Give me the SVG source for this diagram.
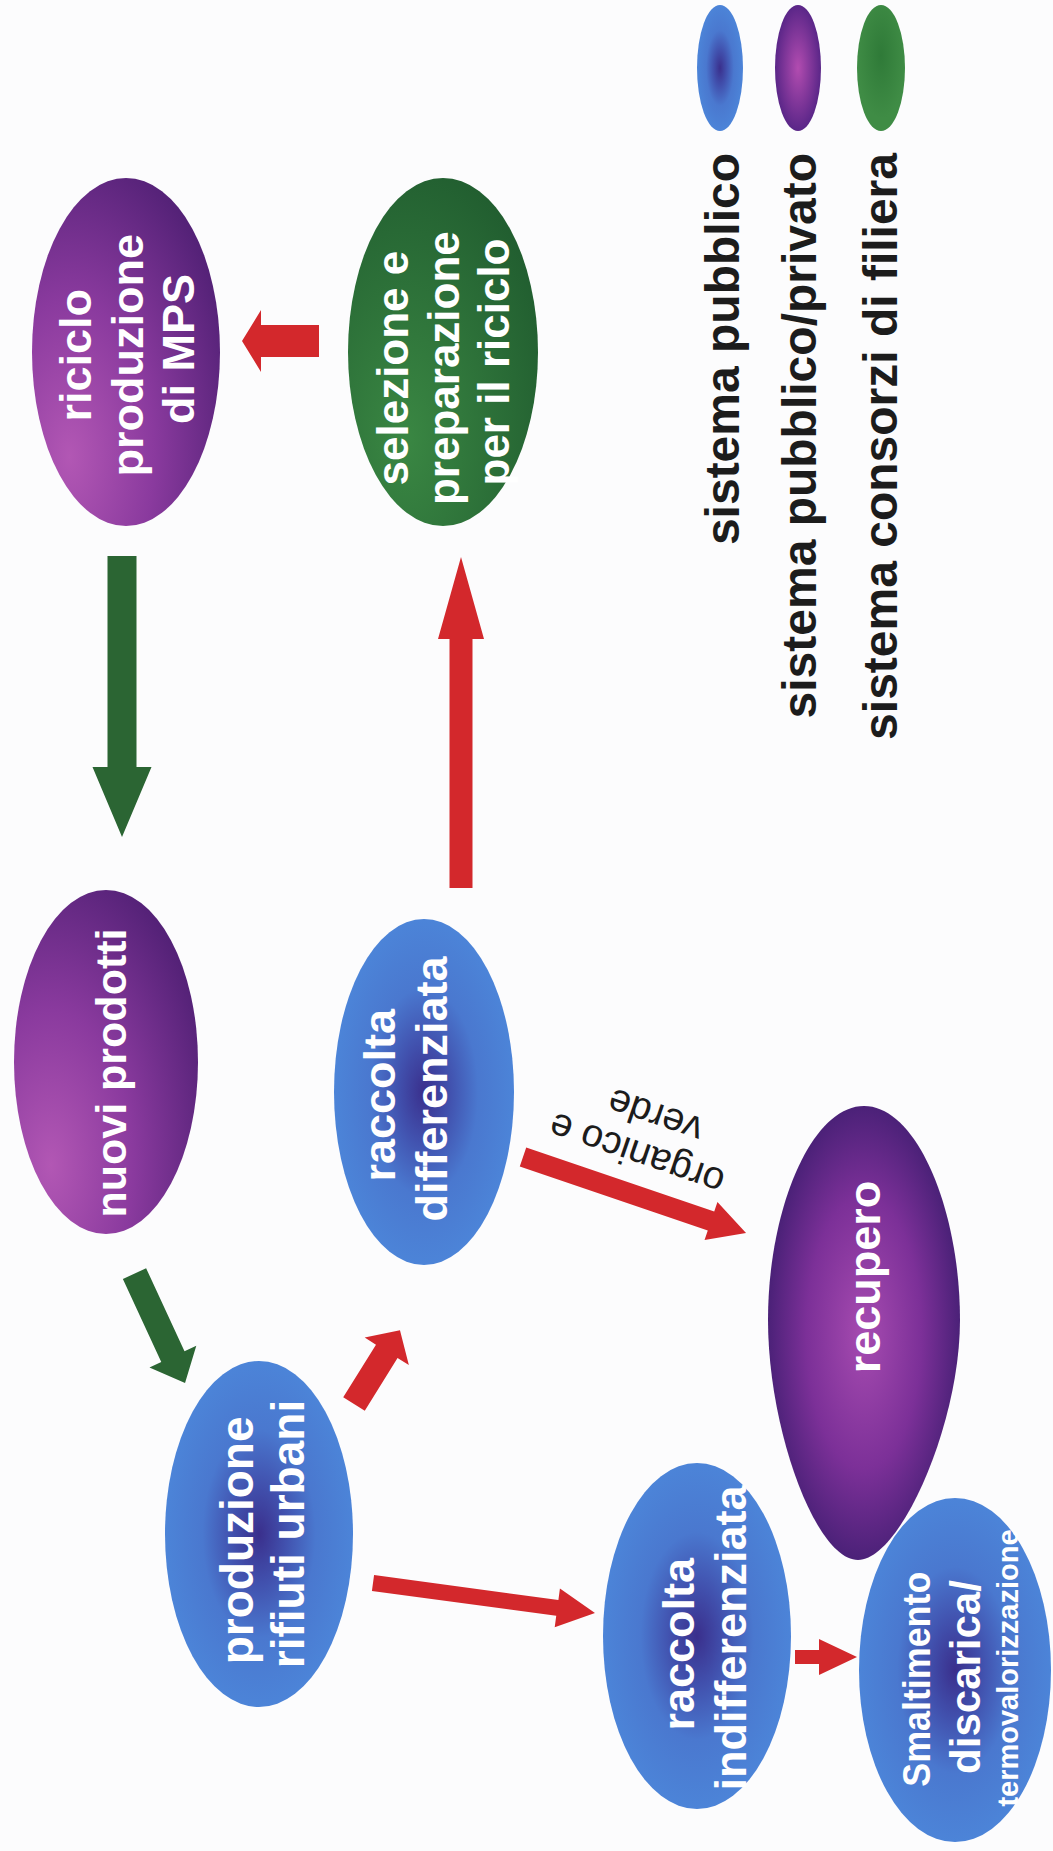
<svg xmlns="http://www.w3.org/2000/svg" width="1053" height="1851" viewBox="0 0 1053 1851">
  <defs>
    <radialGradient id="gBlue" cx="0.5" cy="0.5" r="0.5">
      <stop offset="0" stop-color="#3a2f8c"/>
      <stop offset="0.28" stop-color="#4150ad"/>
      <stop offset="0.6" stop-color="#4a78cf"/>
      <stop offset="1" stop-color="#4c84d8"/>
    </radialGradient>
    <radialGradient id="gPurple" cx="0.2" cy="0.8" r="1" fx="0.2" fy="0.8">
      <stop offset="0" stop-color="#b257b4"/>
      <stop offset="0.45" stop-color="#8a3a9e"/>
      <stop offset="1" stop-color="#4a1d70"/>
    </radialGradient>
    <radialGradient id="gRecupero" cx="0.5" cy="0.5" r="0.5">
      <stop offset="0" stop-color="#a64bb0"/>
      <stop offset="0.6" stop-color="#7c3098"/>
      <stop offset="1" stop-color="#4b2178"/>
    </radialGradient>
    <radialGradient id="gGreen" cx="0.3" cy="0.75" r="0.9" fx="0.3" fy="0.75">
      <stop offset="0" stop-color="#3a8743"/>
      <stop offset="1" stop-color="#1f5a2e"/>
    </radialGradient>
    <radialGradient id="gLegPurple" cx="0.5" cy="0.5" r="0.5">
      <stop offset="0" stop-color="#b24cb0"/>
      <stop offset="1" stop-color="#5a2688"/>
    </radialGradient>
    <radialGradient id="gLegGreen" cx="0.5" cy="0.4" r="0.5">
      <stop offset="0" stop-color="#2f7a38"/>
      <stop offset="1" stop-color="#3f8c45"/>
    </radialGradient>
    <style>
      .node text { font-family: "Liberation Sans", Arial, sans-serif; font-weight: bold; fill: #ffffff; text-anchor: middle; }
      .legend text { font-family: "Liberation Sans", Arial, sans-serif; font-weight: bold; fill: #1c1c1c; font-size: 48px; text-anchor: end; }
      .red { fill: #d3282c; }
      .green { fill: #2b6533; }
      .label { font-family: "Liberation Sans", Arial, sans-serif; font-size: 39px; fill: #1c1c1c; text-anchor: middle; }
    </style>
  </defs>

  <rect x="0" y="0" width="1053" height="1851" fill="#fcfcfd"/>

  <!-- connectors -->
  <g id="connectors">
    <polygon class="red" points="0,-16 58,-16 58,-31 77,0 58,31 58,16 0,16" transform="translate(319,341) rotate(180)"/>
    <polygon class="green" points="0,-14.5 211,-14.5 211,-29.5 281,0 211,29.5 211,14.5 0,14.5" transform="translate(122,556) rotate(90)"/>
    <polygon class="red" points="0,-11.5 249,-11.5 249,-23 331,0 249,23 249,11.5 0,11.5" transform="translate(461,888) rotate(-90)"/>
    <polygon class="green" points="0,-12.8 91.5,-12.8 91.5,-25.8 120.5,0 91.5,25.8 91.5,12.8 0,12.8" transform="translate(134.5,1273.6) rotate(65.2)"/>
    <polygon class="red" points="0,-12.7 62,-12.7 62,-26 87,0 62,26 62,12.7 0,12.7" transform="translate(354,1404) rotate(-58.1)"/>
    <polygon class="red" points="0,-10 198.6,-10 198.6,-20 235.6,0 198.6,20 198.6,10 0,10" transform="translate(523,1157) rotate(18.8)"/>
    <polygon class="red" points="0,-8 186,-8 186,-19.5 224,0 186,19.5 186,8 0,8" transform="translate(373,1583) rotate(7.7)"/>
    <polygon class="red" points="0,-7 24,-7 24,-18 62,0 24,18 24,7 0,7" transform="translate(795,1657)"/>
    <g transform="translate(646,1133) rotate(199)">
      <text class="label" x="2" y="-10">organico e</text>
      <text class="label" x="-3" y="32">verde</text>
    </g>
  </g>

  <!-- nodes -->
  <g id="node-riciclo" class="node">
    <ellipse cx="126" cy="352" rx="94" ry="174" fill="url(#gPurple)"/>
    <text transform="translate(126,349) rotate(-90)" font-size="45">
      <tspan x="0" y="-35">riciclo</tspan>
      <tspan x="0" y="17">produzione</tspan>
      <tspan x="0" y="68">di MPS</tspan>
    </text>
  </g>

  <g id="node-selezione" class="node">
    <ellipse cx="443" cy="352" rx="95" ry="174" fill="url(#gGreen)"/>
    <text transform="translate(443,362) rotate(-90)" font-size="44">
      <tspan x="0" y="-35">selezione e</tspan>
      <tspan x="0" y="16">preparazione</tspan>
      <tspan x="0" y="66">per il riciclo</tspan>
    </text>
  </g>

  <g id="node-nuovi" class="node">
    <ellipse cx="106" cy="1062" rx="92" ry="172" fill="url(#gPurple)"/>
    <text transform="translate(106,1073) rotate(-90)" font-size="43">
      <tspan x="0" y="20">nuovi prodotti</tspan>
    </text>
  </g>

  <g id="node-raccolta-diff" class="node">
    <ellipse cx="424" cy="1092" rx="90" ry="173" fill="url(#gBlue)"/>
    <text transform="translate(424,1089) rotate(-90)" font-size="45">
      <tspan x="0" y="-29">raccolta</tspan>
      <tspan x="0" y="23">differenziata</tspan>
    </text>
  </g>

  <g id="node-recupero" class="node">
    <path d="M 864 1106 C 917 1106 960 1210 960 1320 C 960 1425 900 1560 858 1560 C 816 1560 768 1430 768 1320 C 768 1210 811 1106 864 1106 Z" fill="url(#gRecupero)"/>
    <text transform="translate(864,1277) rotate(-90)" font-size="45">
      <tspan x="0" y="16">recupero</tspan>
    </text>
  </g>

  <g id="node-produzione" class="node">
    <ellipse cx="259" cy="1534" rx="94" ry="173" fill="url(#gBlue)"/>
    <text transform="translate(259,1534) rotate(-90)" font-size="46">
      <tspan x="0" y="-6">produzione</tspan>
      <tspan x="0" y="45">rifiuti urbani</tspan>
    </text>
  </g>

  <g id="node-raccolta-indiff" class="node">
    <ellipse cx="697" cy="1636" rx="94" ry="173" fill="url(#gBlue)"/>
    <text transform="translate(697,1638) rotate(-90)" font-size="45">
      <tspan x="0" y="-3">raccolta</tspan>
      <tspan x="0" y="49">indifferenziata</tspan>
    </text>
  </g>

  <g id="node-smaltimento" class="node">
    <ellipse cx="955" cy="1670" rx="96" ry="172" fill="url(#gBlue)"/>
    <text transform="translate(953,1677) rotate(-90)">
      <tspan x="0" y="-23" font-size="38" textLength="215" lengthAdjust="spacingAndGlyphs">Smaltimento</tspan>
      <tspan x="0" y="27" font-size="42">discarica/</tspan>
    </text>
    <text transform="translate(953,1668) rotate(-90)" font-size="29">
      <tspan x="0" y="65">termovalorizzazione</tspan>
    </text>
  </g>

  <!-- legend -->
  <g id="legend" class="legend">
    <g id="legend-pubblico">
      <ellipse cx="720" cy="68" rx="23" ry="63" fill="url(#gBlue)"/>
      <text transform="translate(739,153) rotate(-90)">sistema pubblico</text>
    </g>
    <g id="legend-pubblico-privato">
      <ellipse cx="798" cy="68" rx="23" ry="63" fill="url(#gLegPurple)"/>
      <text transform="translate(816,153) rotate(-90)">sistema pubblico/privato</text>
    </g>
    <g id="legend-consorzi">
      <ellipse cx="881" cy="68" rx="24" ry="63" fill="url(#gLegGreen)"/>
      <text transform="translate(897,153) rotate(-90)">sistema consorzi di filiera</text>
    </g>
  </g>
</svg>
